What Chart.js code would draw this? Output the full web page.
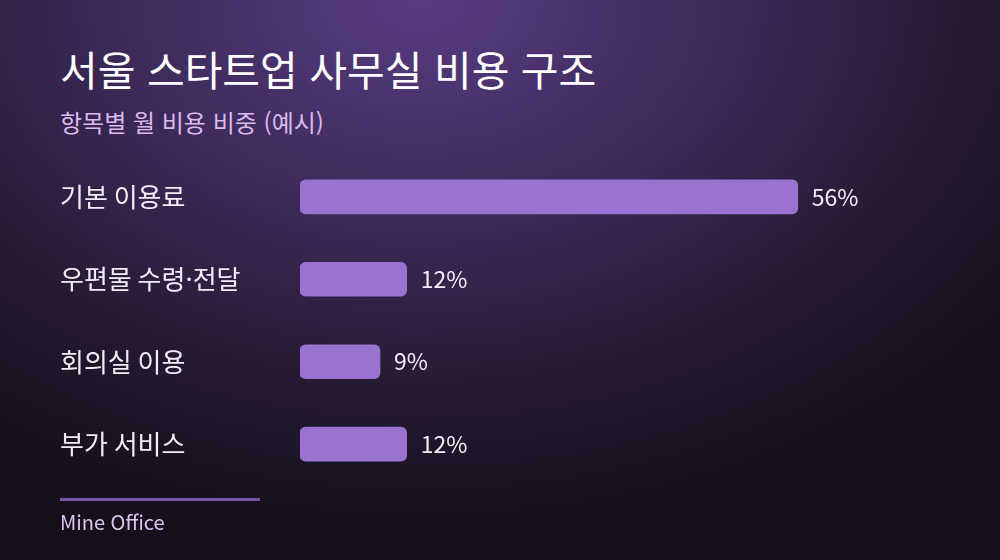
<!DOCTYPE html>
<html lang="ko">
<head>
<meta charset="utf-8">
<script src="https://cdn.jsdelivr.net/npm/chart.js@4/dist/chart.umd.min.js"></script>
<style>
  html, body { margin: 0; padding: 0; }
  body {
    width: 1000px; height: 560px; overflow: hidden; position: relative;
    font-family: "Noto Sans CJK KR", "Noto Sans", sans-serif;
    background: radial-gradient(ellipse 75% 95% at 42% 0%, #583c82 0%, #3d2a5a 40%, #241930 75%, #16101d 100%);
  }
  #title { position: absolute; left: 60px; top: 38px; font-size: 41px; font-weight: 400; color: #ffffff; }
  #subtitle { position: absolute; left: 60px; top: 104px; font-size: 24px; color: #dcbaef; }
  #wrap { position: absolute; left: 60px; top: 140px; width: 880px; height: 361px; }
  #rule { position: absolute; left: 60px; top: 498px; width: 200px; height: 3px; background: #7656a6; }
  #source { position: absolute; left: 60px; top: 507px; font-size: 20px; color: #dcc4f0; }
</style>
</head>
<body>
<div id="title">서울 스타트업 사무실 비용 구조</div>
<div id="subtitle">항목별 월 비용 비중 (예시)</div>
<div id="wrap"><canvas id="chart"></canvas></div>
<div id="rule"></div>
<div id="source">Mine Office</div>
<script>
const categories = ['기본 이용료', '우편물 수령·전달', '회의실 이용', '부가 서비스'];
const shares = [56, 12, 9, 12];

const valueLabels = {
  id: 'valueLabels',
  afterDatasetsDraw(chart) {
    const ctx = chart.ctx;
    const meta = chart.getDatasetMeta(0);
    ctx.save();
    ctx.font = '23px "Noto Sans CJK KR", "Noto Sans", sans-serif';
    ctx.fillStyle = '#f4eefa';
    ctx.textAlign = 'left';
    ctx.textBaseline = 'middle';
    meta.data.forEach((bar, i) => {
      ctx.fillText(shares[i] + '%', bar.x + 14, bar.y);
    });
    ctx.restore();
  }
};

new Chart(document.getElementById('chart'), {
  type: 'bar',
  data: {
    labels: categories,
    datasets: [{
      data: shares,
      backgroundColor: '#9a73d1',
      borderRadius: 6,
      borderSkipped: false,
      barThickness: 34
    }]
  },
  options: {
    indexAxis: 'y',
    responsive: true,
    maintainAspectRatio: false,
    animation: false,
    layout: { padding: 0 },
    plugins: { legend: { display: false }, tooltip: { enabled: false } },
    scales: {
      x: {
        min: 0, max: 72,
        display: false,
        grid: { display: false }
      },
      y: {
        grid: { display: false },
        border: { display: false },
        afterFit(scale) { scale.width = 240; },
        ticks: {
          crossAlign: 'far',
          padding: 0,
          color: '#f2ecf8',
          font: { size: 26, family: '"Noto Sans CJK KR", "Noto Sans", sans-serif' }
        }
      }
    }
  },
  plugins: [valueLabels]
});
</script>
</body>
</html>
